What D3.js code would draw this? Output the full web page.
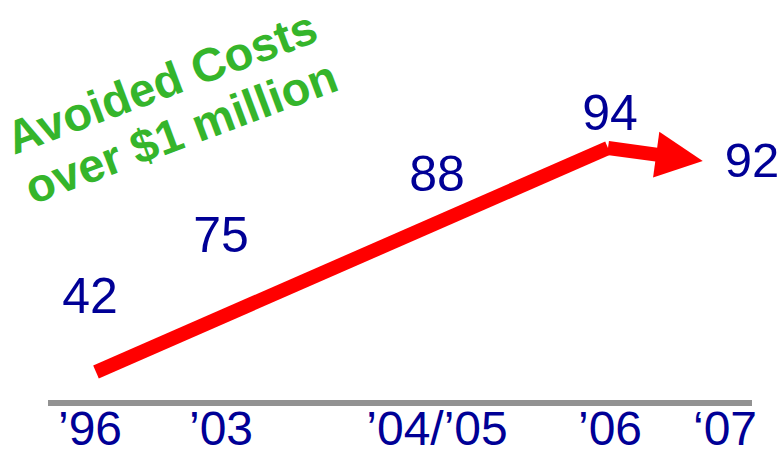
<!DOCTYPE html>
<html>
<head>
<meta charset="utf-8">
<script src="https://cdn.jsdelivr.net/npm/d3@7"></script>
<style>
  html, body { margin: 0; padding: 0; background: #fff; }
  svg { display: block; }
</style>
</head>
<body>
<svg id="chart" width="783" height="455"></svg>
<script>
// ---- data ----
const categories = ["\u201996", "\u201903", "\u201904/\u201905", "\u201906", "\u201807"];
const values = [42, 75, 88, 94, 92];
const titleLines = ["Avoided Costs", "over $1 million"];

// ---- styles ----
const BLUE = "#000096";
const RED = "#ff0000";
const GREEN = "#35b52b";
const GRAY = "#929292";
const FONT = "'Liberation Sans', Arial, Helvetica, sans-serif";

const svg = d3.select("#chart");

// x positions of each category along the baseline
const x = d3.scaleOrdinal().domain(categories).range([90, 221, 437, 610, 725]);

// y scale for the trend arrow
const y = d3.scaleLinear().domain(d3.extent(values)).range([372, 148]);

// label height scale by step (staircase)
const labelY = d3.scaleLinear().domain([0, 3]).range([313, 130]);

// ---- axis baseline ----
const axisY = 403;
svg.append("line")
  .attr("x1", 48).attr("x2", 752)
  .attr("y1", axisY).attr("y2", axisY)
  .attr("stroke", GRAY).attr("stroke-width", 6);

svg.selectAll("text.tick")
  .data(categories)
  .join("text")
  .attr("class", "tick")
  .attr("x", d => x(d))
  .attr("y", 445)
  .attr("text-anchor", "middle")
  .attr("font-family", FONT)
  .attr("font-size", 48)
  .attr("fill", BLUE)
  .text(d => d);

// ---- trend arrow ----
const iMax = d3.maxIndex(values);
const last = values.length - 1;
const p0 = [x(categories[0]) + 6, y(values[0])];
const pMax = [x(categories[iMax]) - 2, y(values[iMax])];
const pLast = [x(categories[last]), y(values[last])];

svg.append("line")
  .attr("x1", p0[0]).attr("y1", p0[1])
  .attr("x2", pMax[0]).attr("y2", pMax[1])
  .attr("stroke", RED).attr("stroke-width", 14)
  .attr("stroke-linecap", "butt");

// arrow toward the last point, stopping short of its label
const t = 0.81;
const tip = [pMax[0] + t * (pLast[0] - pMax[0]), pMax[1] + t * (pLast[1] - pMax[1]) + 6];
const dx = tip[0] - pMax[0], dy = tip[1] - pMax[1];
const len = Math.hypot(dx, dy);
const ux = dx / len, uy = dy / len;
const nx = -uy, ny = ux;
const headLen = 47, headHalf = 23;
const base = [tip[0] - ux * headLen, tip[1] - uy * headLen];

svg.append("line")
  .attr("x1", pMax[0]).attr("y1", pMax[1])
  .attr("x2", base[0] + ux * 4).attr("y2", base[1] + uy * 4)
  .attr("stroke", RED).attr("stroke-width", 14);

svg.append("path")
  .attr("d", d3.line()([
    [base[0] + nx * headHalf, base[1] + ny * headHalf],
    tip,
    [base[0] - nx * headHalf, base[1] - ny * headHalf]
  ]) + "Z")
  .attr("fill", RED);

// ---- value labels ----
svg.selectAll("text.val")
  .data(values.slice(0, last))
  .join("text")
  .attr("class", "val")
  .attr("x", (d, i) => x(categories[i]))
  .attr("y", (d, i) => labelY(i))
  .attr("text-anchor", "middle")
  .attr("font-family", FONT)
  .attr("font-size", 50)
  .attr("fill", BLUE)
  .text(d => d);

svg.append("text")
  .attr("x", tip[0] + 22)
  .attr("y", tip[1] + 16)
  .attr("text-anchor", "start")
  .attr("font-family", FONT)
  .attr("font-size", 49)
  .attr("fill", BLUE)
  .text(values[last]);

// ---- rotated title ----
const title = svg.append("g")
  .attr("transform", "translate(14,155) rotate(-20.5)");
title.selectAll("text")
  .data(titleLines)
  .join("text")
  .attr("x", 0)
  .attr("y", (d, i) => i * 53)
  .attr("font-family", FONT)
  .attr("font-weight", "bold")
  .attr("font-size", 47)
  .attr("fill", GREEN)
  .text(d => d);
</script>
</body>
</html>
